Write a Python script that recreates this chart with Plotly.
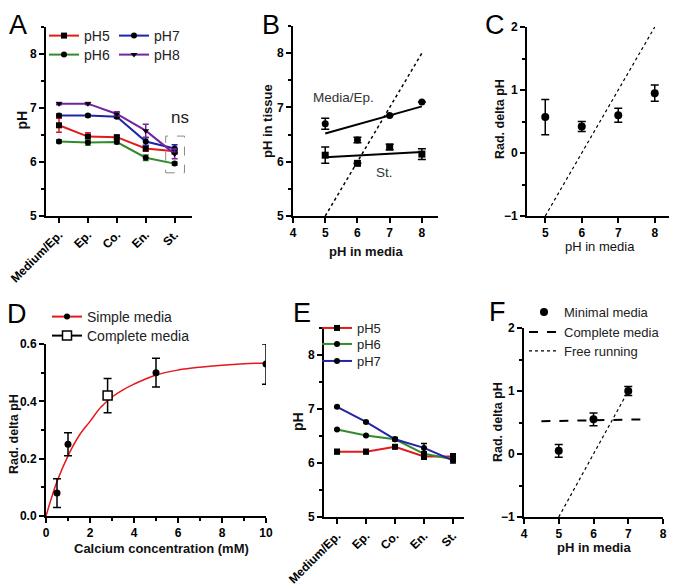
import plotly.graph_objects as go

# The page body has an 8px default margin; the figure is sized to fill the rest of the window.
OFF = 8
FW, FH = 677 - OFF, 588 - OFF
FONT = "Liberation Sans, Arial, sans-serif"

# ---------------- DATA ----------------
cats = ["Medium/Ep.", "Ep.", "Co.", "En.", "St."]

# Panel A
a_ph5 = [6.68, 6.47, 6.46, 6.25, 6.20]
a_ph5_err = [0.13, 0.07, 0.03, 0.05, 0.05]
a_ph6 = [6.38, 6.36, 6.37, 6.08, 5.97]
a_ph6_err = [0.03, 0.05, 0.03, 0.05, 0.03]
a_ph7 = [6.86, 6.86, 6.84, 6.38, 6.25]
a_ph7_err = [0.03, 0.02, 0.03, 0.07, 0.07]
a_ph8 = [7.08, 7.08, 6.89, 6.58, 6.15]
a_ph8_err = [0.02, 0.02, 0.04, 0.12, 0.09]

# Panel B
b_x = [5, 6, 7, 8]
b_media = [6.70, 6.40, 6.85, 7.10]
b_media_err = [0.10, 0.05, 0.0, 0.0]
b_st = [6.12, 5.97, 6.27, 6.14]
b_st_err = [0.15, 0.0, 0.05, 0.10]
b_fit_x = [5, 8]
b_media_fit = [6.52, 7.02]
b_st_fit = [6.08, 6.18]
b_ident = [5, 8]

# Panel C
c_x = [5, 6, 7, 8]
c_y = [0.57, 0.42, 0.60, 0.95]
c_err = [0.28, 0.08, 0.11, 0.13]
c_line_x = [5, 8]
c_line_y = [-1, 2]

# Panel D
d_simple_x = [0.5, 1, 5, 10]
d_simple_y = [0.08, 0.25, 0.50, 0.53]
d_simple_err = [0.05, 0.04, 0.05, 0.07]
d_complete_x = [2.8]
d_complete_y = [0.42]
d_complete_err = [0.06]
d_fit_x = [0, 0.5, 1, 1.5, 2, 2.5, 3, 3.5, 4, 5, 6, 7, 8, 9, 10]
d_fit_y = [0, 0.12, 0.21, 0.28, 0.33, 0.38, 0.415, 0.44, 0.46, 0.492, 0.509, 0.519, 0.526, 0.531, 0.534]

# Panel E
e_ph5 = [6.21, 6.21, 6.30, 6.12, 6.12]
e_ph5_err = [0.04, 0.04, 0.03, 0.05, 0.05]
e_ph6 = [6.62, 6.51, 6.44, 6.17, 6.07]
e_ph6_err = [0.01, 0.01, 0.02, 0.04, 0.04]
e_ph7 = [7.04, 6.76, 6.44, 6.28, 6.05]
e_ph7_err = [0.01, 0.01, 0.03, 0.08, 0.05]

# Panel F
f_x = [5, 6, 7]
f_y = [0.05, 0.55, 1.00]
f_err = [0.10, 0.10, 0.07]
f_complete_x = [4.5, 7.5]
f_complete_y = [0.52, 0.55]
f_free_x = [5, 7]
f_free_y = [-1, 1]

RED = "#e3191c"
GREEN = "#338a2e"
BLUE = "#1f24a8"
PURPLE = "#7422a0"

# ---------------- helpers (window pixel -> paper fraction) ----------------
def fx(p):
    return (p - OFF) / FW

def fy(p):
    return 1 - (p - OFF) / FH

def xd(p0, p1):
    return [fx(p0), fx(p1)]

def yd(top, bottom):
    return [fy(bottom), fy(top)]

def axis(domain, rng, anchor, **kw):
    d = dict(domain=domain, range=rng, anchor=anchor, showline=True, linecolor="black",
             linewidth=2, ticks="outside", ticklen=5, tickwidth=2, tickcolor="black",
             showgrid=False, zeroline=False, automargin=False,
             tickfont=dict(family=FONT, size=12, color="black", weight="bold"))
    d.update(kw)
    return d

def minor(dt, ln=3):
    return dict(dtick=dt, ticklen=ln, tickwidth=1.5, tickcolor="black", ticks="outside")

def err(arr, color="black", width=3):
    return dict(type="data", array=arr, color=color, thickness=1.5, width=width, visible=True)

fig = go.Figure()

# ---------------- Panel A ----------------
for name, ys, es, col, sym, leg in [
    ("pH5", a_ph5, a_ph5_err, RED, "square", "legend"),
    ("pH6", a_ph6, a_ph6_err, GREEN, "circle", "legend2"),
    ("pH7", a_ph7, a_ph7_err, BLUE, "circle", "legend3"),
    ("pH8", a_ph8, a_ph8_err, PURPLE, "triangle-down", "legend4"),
]:
    fig.add_trace(go.Scatter(x=cats, y=ys, error_y=err(es, col), mode="lines+markers",
                             line=dict(color=col, width=2),
                             marker=dict(color="black", size=6, symbol=sym),
                             name=name, legend=leg, xaxis="x", yaxis="y"))

# ---------------- Panel B ----------------
fig.add_trace(go.Scatter(x=b_fit_x, y=b_ident, mode="lines", line=dict(color="black", width=1.5, dash="dot"),
                         showlegend=False, xaxis="x2", yaxis="y2"))
fig.add_trace(go.Scatter(x=b_fit_x, y=b_media_fit, mode="lines", line=dict(color="black", width=2),
                         showlegend=False, xaxis="x2", yaxis="y2"))
fig.add_trace(go.Scatter(x=b_fit_x, y=b_st_fit, mode="lines", line=dict(color="black", width=2),
                         showlegend=False, xaxis="x2", yaxis="y2"))
fig.add_trace(go.Scatter(x=b_x, y=b_media, error_y=err(b_media_err, width=4), mode="markers",
                         marker=dict(color="black", size=7, symbol="circle"),
                         showlegend=False, xaxis="x2", yaxis="y2"))
fig.add_trace(go.Scatter(x=b_x, y=b_st, error_y=err(b_st_err, width=4), mode="markers",
                         marker=dict(color="black", size=7, symbol="square"),
                         showlegend=False, xaxis="x2", yaxis="y2"))

# ---------------- Panel C ----------------
fig.add_trace(go.Scatter(x=c_line_x, y=c_line_y, mode="lines", line=dict(color="black", width=1.2, dash="dot"),
                         showlegend=False, xaxis="x3", yaxis="y3"))
fig.add_trace(go.Scatter(x=c_x, y=c_y, error_y=err(c_err, width=4), mode="markers",
                         marker=dict(color="black", size=8, symbol="circle"),
                         showlegend=False, xaxis="x3", yaxis="y3"))

# ---------------- Panel D ----------------
fig.add_trace(go.Scatter(x=d_fit_x, y=d_fit_y, mode="lines", line=dict(color=RED, width=1.5, shape="spline"),
                         showlegend=False, xaxis="x4", yaxis="y4"))
fig.add_trace(go.Scatter(x=d_simple_x, y=d_simple_y, error_y=err(d_simple_err, width=4), mode="markers",
                         marker=dict(color="black", size=7, symbol="circle"),
                         showlegend=False, xaxis="x4", yaxis="y4"))
fig.add_trace(go.Scatter(x=d_complete_x, y=d_complete_y, error_y=err(d_complete_err, width=4), mode="markers",
                         marker=dict(color="white", size=9, symbol="square", line=dict(color="black", width=1.5)),
                         showlegend=False, xaxis="x4", yaxis="y4"))
fig.add_trace(go.Scatter(x=[None], y=[None], mode="lines+markers", line=dict(color=RED, width=2),
                         marker=dict(color="black", size=6, symbol="circle"),
                         name="Simple media", legend="legend5", xaxis="x4", yaxis="y4"))
fig.add_trace(go.Scatter(x=[None], y=[None], mode="lines+markers", line=dict(color="black", width=2),
                         marker=dict(color="white", size=9, symbol="square", line=dict(color="black", width=1.5)),
                         name="Complete media", legend="legend6", xaxis="x4", yaxis="y4"))

# ---------------- Panel E ----------------
for name, ys, es, col, sym, leg in [
    ("pH5", e_ph5, e_ph5_err, RED, "square", "legend7"),
    ("pH6", e_ph6, e_ph6_err, GREEN, "circle", "legend8"),
    ("pH7", e_ph7, e_ph7_err, BLUE, "circle", "legend9"),
]:
    fig.add_trace(go.Scatter(x=cats, y=ys, error_y=err(es, "black"), mode="lines+markers",
                             line=dict(color=col, width=2),
                             marker=dict(color="black", size=6, symbol=sym),
                             name=name, legend=leg, xaxis="x5", yaxis="y5"))

# ---------------- Panel F ----------------
fig.add_trace(go.Scatter(x=f_x, y=f_y, error_y=err(f_err, width=4), mode="markers",
                         marker=dict(color="black", size=8, symbol="circle"),
                         name="Minimal media", legend="legend10", xaxis="x6", yaxis="y6"))
fig.add_trace(go.Scatter(x=f_complete_x, y=f_complete_y, mode="lines",
                         line=dict(color="black", width=2, dash="dash"),
                         name="Complete media", legend="legend11", xaxis="x6", yaxis="y6"))
fig.add_trace(go.Scatter(x=f_free_x, y=f_free_y, mode="lines",
                         line=dict(color="black", width=1.2, dash="dot"),
                         name="Free running", legend="legend12", xaxis="x6", yaxis="y6"))

# ---------------- layout ----------------
def legend(x, y, size):
    return dict(x=fx(x), y=fy(y), xanchor="left", yanchor="middle", bgcolor="rgba(0,0,0,0)",
                font=dict(family=FONT, size=size, color="#222"), tracegroupgap=0, itemwidth=30)

layout = dict(
    width=FW, height=FH, margin=dict(l=0, r=0, t=0, b=0, autoexpand=False),
    paper_bgcolor="white", plot_bgcolor="white",
    font=dict(family=FONT, color="black"),
    legend=legend(44, 36, 14), legend2=legend(44, 55, 14),
    legend3=legend(114, 36, 14), legend4=legend(114, 55, 14),
    legend5=legend(47, 317, 14), legend6=legend(47, 336, 14),
    legend7=legend(317, 328, 13), legend8=legend(317, 344, 13), legend9=legend(317, 361, 13),
    legend10=legend(524, 312, 13), legend11=legend(524, 332, 13), legend12=legend(524, 351, 13),
    # A
    xaxis=axis(xd(46, 192), [-0.45, 4.6], "y", type="category", tickangle=-45),
    yaxis=axis(yd(27, 216), [5, 8.5], "x", tickvals=[5, 6, 7, 8], minor=minor(0.5)),
    # B
    xaxis2=axis(xd(293, 438), [4, 8.5], "y2", tickvals=[4, 5, 6, 7, 8]),
    yaxis2=axis(yd(26, 216), [5, 8.5], "x2", tickvals=[5, 6, 7, 8], minor=minor(0.5)),
    # C
    xaxis3=axis(xd(527, 673), [4.5, 8.5], "y3", tickvals=[5, 6, 7, 8]),
    yaxis3=axis(yd(27, 216), [-1, 2], "x3", tickvals=[-1, 0, 1, 2], minor=minor(0.5)),
    # D
    xaxis4=axis(xd(46, 266), [0, 10], "y4", tickvals=[0, 2, 4, 6, 8, 10], minor=minor(1)),
    yaxis4=axis(yd(344, 516), [0, 0.6], "x4", tickvals=[0, 0.2, 0.4, 0.6], tickformat=".1f", minor=minor(0.1)),
    # E
    xaxis5=axis(xd(324, 464), [-0.45, 4.38], "y5", type="category", tickangle=-45),
    yaxis5=axis(yd(328, 517), [5, 8.5], "x5", tickvals=[5, 6, 7, 8], minor=minor(0.5)),
    # F
    xaxis6=axis(xd(524, 663), [4, 8], "y6", tickvals=[4, 5, 6, 7, 8]),
    yaxis6=axis(yd(328, 517), [-1, 2], "x6", tickvals=[-1, 0, 1, 2], minor=minor(0.5)),
)
fig.update_layout(**layout)

# axis titles (as text annotations placed beside each axis)
def title(text, px, py, size=13, weight="bold", angle=0):
    fig.add_annotation(xref="paper", yref="paper", x=fx(px), y=fy(py), text=text, showarrow=False,
                       xanchor="center", yanchor="middle", textangle=angle,
                       font=dict(family=FONT, size=size, color="#111", weight=weight))

title("pH", 21.5, 120, 14, angle=-90)
title("pH in tissue", 267, 121, 13, angle=-90)
title("pH in media", 366, 251, 13)
title("Rad. delta pH", 500, 119, 12.5, angle=-90)
title("pH in media", 600, 246, 13, weight="normal")
title("Rad. delta pH", 14, 434, 12.5, angle=-90)
title("Calcium concentration (mM)", 161, 548, 13)
title("pH", 297.5, 421.5, 14, angle=-90)
title("Rad. delta pH", 498, 422, 12.5, angle=-90)
title("pH in media", 594, 547, 13)

# ns box and labels in panel A
fig.add_shape(type="rect", xref="x", yref="y", x0=3.69, x1=4.34, y0=5.8, y1=6.48,
              line=dict(color="#888", width=1, dash="dash"))
fig.add_annotation(xref="x", yref="y", x=4.17, y=6.82, text="ns", showarrow=False,
                   font=dict(family=FONT, size=17, color="#222"))
# text labels in panel B
fig.add_annotation(xref="x2", yref="y2", x=5.58, y=7.19, text="Media/Ep.", showarrow=False,
                   font=dict(family=FONT, size=13.5, color="#333"))
fig.add_annotation(xref="x2", yref="y2", x=6.85, y=5.81, text="St.", showarrow=False,
                   font=dict(family=FONT, size=13.5, color="#333"))

# panel letters
for letter, px, py in [("A", 18, 25), ("B", 271, 25), ("C", 495, 25),
                       ("D", 17, 314), ("E", 302, 313), ("F", 497, 312)]:
    fig.add_annotation(xref="paper", yref="paper", x=fx(px), y=fy(py), text=letter,
                       showarrow=False, xanchor="center", yanchor="middle",
                       font=dict(family=FONT, size=27, color="black"))

fig.write_html("out.html")
